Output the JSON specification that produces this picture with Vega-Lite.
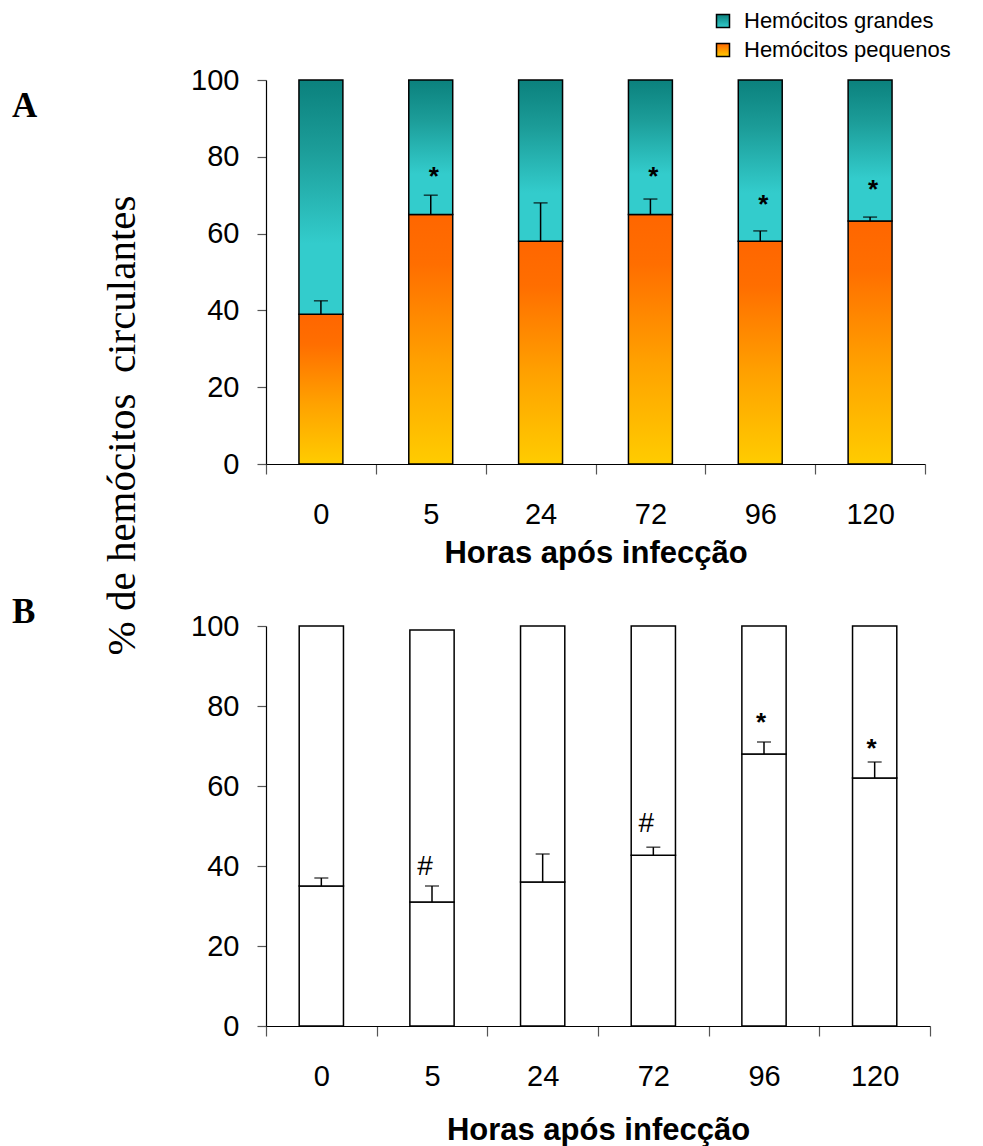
{
  "$schema": "https://vega.github.io/schema/vega-lite/v6.json",
  "background": "white",
  "padding": {"left": 12, "top": 10, "right": 5, "bottom": 5},
  "bounds": "flush",
  "spacing": 162,
  "config": {
    "view": {"stroke": null},
    "axis": {
      "grid": false,
      "domainColor": "black",
      "domainWidth": 1.2,
      "tickColor": "#555555",
      "tickWidth": 1.2,
      "labelFont": "Liberation Sans",
      "labelFontSize": 29,
      "labelColor": "black",
      "titleColor": "black"
    }
  },
  "vconcat": [
    {
      "width": 659,
      "height": 384,
      "title": {"text": "A", "anchor": "start", "frame": "group", "font": "Liberation Serif", "fontSize": 35, "fontWeight": "bold", "color": "black", "dx": -254, "dy": 58, "offset": 0},
      "data": {"values": [
        {"tempo": "0", "peq": 39, "erro": 42.5, "marca": null, "pos": null},
        {"tempo": "5", "peq": 65, "erro": 70, "marca": "*", "pos": 76.6},
        {"tempo": "24", "peq": 58, "erro": 68, "marca": null, "pos": null},
        {"tempo": "72", "peq": 65, "erro": 69, "marca": "*", "pos": 76.6},
        {"tempo": "96", "peq": 58, "erro": 60.7, "marca": "*", "pos": 69.3},
        {"tempo": "120", "peq": 63.3, "erro": 64.3, "marca": "*", "pos": 73.2}
      ]},
      "layer": [
        {
          "mark": {"type": "bar", "width": {"band": 0.4}, "stroke": "black", "strokeWidth": 1.5,
            "fill": {"gradient": "linear", "x1": 0, "y1": 0, "x2": 0, "y2": 1, "stops": [
              {"offset": 0, "color": "#FF6600"}, {"offset": 0.2, "color": "#FF6E00"}, {"offset": 0.6, "color": "#FFA200"}, {"offset": 1, "color": "#FFCC00"}]}},
          "encoding": {
            "x": {"field": "tempo", "type": "nominal", "sort": ["0", "5", "24", "72", "96", "120"],
              "scale": {"paddingInner": 0, "paddingOuter": 0},
              "axis": {"tickBand": "extent", "labelAngle": 0, "tickSize": 10, "labelPadding": 26,
                "title": "Horas após infecção", "titleFont": "Liberation Sans", "titleFontSize": 31, "titleFontWeight": "bold",
                "titleBaseline": "alphabetic", "titleY": 98}},
            "y": {"field": "peq", "type": "quantitative", "scale": {"domain": [0, 100]},
              "axis": {"values": [0, 20, 40, 60, 80, 100], "tickSize": 9, "labelPadding": 18,
                "title": "% de hemócitos\u00a0 circulantes", "titleFont": "Liberation Serif", "titleFontSize": 41, "titleFontWeight": "normal",
                "titleAngle": -90, "titleX": -132, "titleY": 345, "titleAlign": "center", "titleBaseline": "alphabetic"}}
          }
        },
        {
          "mark": {"type": "bar", "width": {"band": 0.4}, "stroke": "black", "strokeWidth": 1.5,
            "fill": {"gradient": "linear", "x1": 0, "y1": 0, "x2": 0, "y2": 1, "stops": [
              {"offset": 0, "color": "#0B817D"}, {"offset": 0.3, "color": "#1C9D99"}, {"offset": 0.7, "color": "#33CCCC"}, {"offset": 1, "color": "#33CCCC"}]}},
          "encoding": {
            "x": {"field": "tempo", "type": "nominal", "sort": ["0", "5", "24", "72", "96", "120"]},
            "y": {"field": "peq", "type": "quantitative"},
            "y2": {"datum": 100}
          }
        },
        {
          "mark": {"type": "rule", "color": "black", "strokeWidth": 1.5},
          "encoding": {
            "x": {"field": "tempo", "type": "nominal", "sort": ["0", "5", "24", "72", "96", "120"]},
            "y": {"field": "peq", "type": "quantitative"},
            "y2": {"field": "erro"}
          }
        },
        {
          "mark": {"type": "tick", "color": "black", "size": 14, "thickness": 1.5, "orient": "horizontal"},
          "encoding": {
            "x": {"field": "tempo", "type": "nominal", "sort": ["0", "5", "24", "72", "96", "120"]},
            "y": {"field": "erro", "type": "quantitative"}
          }
        },
        {
          "transform": [{"filter": "datum.marca != null"}],
          "mark": {"type": "text", "font": "Liberation Sans", "fontSize": 26, "fontWeight": "bold", "color": "black", "baseline": "middle", "dx": 3, "dy": 7},
          "encoding": {
            "x": {"field": "tempo", "type": "nominal", "sort": ["0", "5", "24", "72", "96", "120"]},
            "y": {"field": "pos", "type": "quantitative"},
            "text": {"field": "marca"}
          }
        },
        {
          "data": {"values": [{"tipo": "Hemócitos grandes", "tempo": "0"}, {"tipo": "Hemócitos pequenos", "tempo": "0"}]},
          "mark": {"type": "point", "shape": "square", "filled": true, "opacity": 0},
          "encoding": {
            "x": {"field": "tempo", "type": "nominal", "sort": ["0", "5", "24", "72", "96", "120"]},
            "fill": {"field": "tipo", "type": "nominal",
              "scale": {"range": [
                {"expr": "{gradient: 'linear', x1: 0, y1: 0, x2: 0, y2: 1, stops: [{offset: 0, color: '#0B817D'}, {offset: 1, color: '#33CCCC'}]}"},
                {"expr": "{gradient: 'linear', x1: 0, y1: 0, x2: 0, y2: 1, stops: [{offset: 0, color: '#FF6600'}, {offset: 1, color: '#FFCC00'}]}"}
              ]},
              "legend": {"title": null, "orient": "none", "legendX": 446, "legendY": -70,
                "symbolType": "square", "symbolSize": 169, "symbolStrokeWidth": 1.5, "symbolOpacity": 1,
                "labelFont": "Liberation Sans", "labelFontSize": 22, "labelColor": "black", "labelOffset": 10, "labelLimit": 0, "rowPadding": 7}},
            "stroke": {"field": "tipo", "type": "nominal", "scale": {"range": ["black", "black"]},
              "legend": {"title": null, "orient": "none", "legendX": 446, "legendY": -70,
                "symbolType": "square", "symbolSize": 169, "symbolStrokeWidth": 1.5, "symbolOpacity": 1,
                "labelFont": "Liberation Sans", "labelFontSize": 22, "labelColor": "black", "labelOffset": 10, "labelLimit": 0, "rowPadding": 7}}
          }
        }
      ]
    },
    {
      "width": 664,
      "height": 400,
      "title": {"text": "B", "anchor": "start", "frame": "group", "font": "Liberation Serif", "fontSize": 35, "fontWeight": "bold", "color": "black", "dx": -254, "dy": 18, "offset": 0},
      "data": {"values": [
        {"tempo": "0", "peq": 35, "topo": 100, "erro": 37, "marca": null, "pos": null},
        {"tempo": "5", "peq": 31, "topo": 99, "erro": 35, "marca": "#", "pos": 40.3},
        {"tempo": "24", "peq": 36, "topo": 100, "erro": 43, "marca": null, "pos": null},
        {"tempo": "72", "peq": 42.7, "topo": 100, "erro": 44.7, "marca": "#", "pos": 50.9},
        {"tempo": "96", "peq": 68, "topo": 100, "erro": 71, "marca": "*", "pos": 77.6},
        {"tempo": "120", "peq": 62, "topo": 100, "erro": 66, "marca": "*", "pos": 71}
      ]},
      "layer": [
        {
          "mark": {"type": "bar", "width": {"band": 0.4}, "stroke": "black", "strokeWidth": 1.5, "fill": "white"},
          "encoding": {
            "x": {"field": "tempo", "type": "nominal", "sort": ["0", "5", "24", "72", "96", "120"],
              "scale": {"paddingInner": 0, "paddingOuter": 0},
              "axis": {"tickBand": "extent", "labelAngle": 0, "tickSize": 10, "labelPadding": 26,
                "title": "Horas após infecção", "titleFont": "Liberation Sans", "titleFontSize": 31, "titleFontWeight": "bold",
                "titleBaseline": "alphabetic", "titleY": 113}},
            "y": {"field": "peq", "type": "quantitative", "scale": {"domain": [0, 100]},
              "axis": {"values": [0, 20, 40, 60, 80, 100], "tickSize": 9, "labelPadding": 18, "title": null}}
          }
        },
        {
          "mark": {"type": "bar", "width": {"band": 0.4}, "stroke": "black", "strokeWidth": 1.5, "fill": "white"},
          "encoding": {
            "x": {"field": "tempo", "type": "nominal", "sort": ["0", "5", "24", "72", "96", "120"]},
            "y": {"field": "peq", "type": "quantitative"},
            "y2": {"field": "topo"}
          }
        },
        {
          "mark": {"type": "rule", "color": "black", "strokeWidth": 1.5},
          "encoding": {
            "x": {"field": "tempo", "type": "nominal", "sort": ["0", "5", "24", "72", "96", "120"]},
            "y": {"field": "peq", "type": "quantitative"},
            "y2": {"field": "erro"}
          }
        },
        {
          "mark": {"type": "tick", "color": "black", "size": 14, "thickness": 1.5, "orient": "horizontal"},
          "encoding": {
            "x": {"field": "tempo", "type": "nominal", "sort": ["0", "5", "24", "72", "96", "120"]},
            "y": {"field": "erro", "type": "quantitative"}
          }
        },
        {
          "transform": [{"filter": "datum.marca === '*'"}],
          "mark": {"type": "text", "font": "Liberation Sans", "fontSize": 26, "fontWeight": "bold", "color": "black", "baseline": "middle", "dx": -3, "dy": 7},
          "encoding": {
            "x": {"field": "tempo", "type": "nominal", "sort": ["0", "5", "24", "72", "96", "120"]},
            "y": {"field": "pos", "type": "quantitative"},
            "text": {"field": "marca"}
          }
        },
        {
          "transform": [{"filter": "datum.marca === '#'"}],
          "mark": {"type": "text", "font": "Liberation Sans", "fontSize": 28, "color": "black", "baseline": "middle", "dx": -7, "dy": 2},
          "encoding": {
            "x": {"field": "tempo", "type": "nominal", "sort": ["0", "5", "24", "72", "96", "120"]},
            "y": {"field": "pos", "type": "quantitative"},
            "text": {"field": "marca"}
          }
        }
      ]
    }
  ]
}
